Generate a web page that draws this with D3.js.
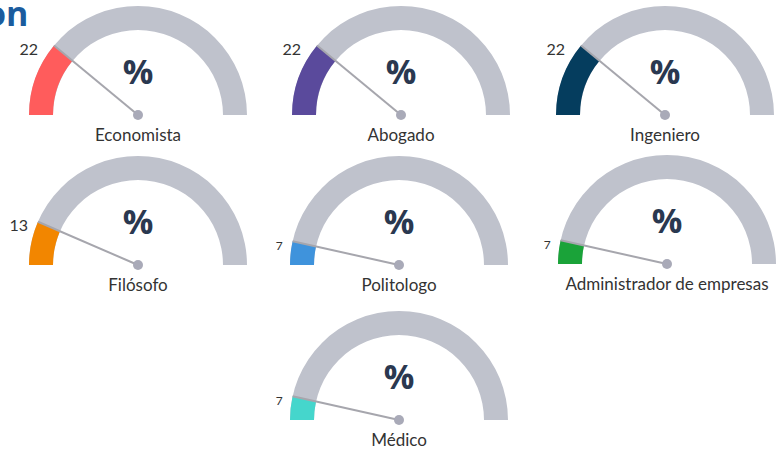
<!DOCTYPE html>
<html>
<head>
<meta charset="utf-8">
<script src="https://cdn.jsdelivr.net/npm/d3@7"></script>
<style>
  body { margin: 0; background: #fff; }
  svg { display: block; }
</style>
</head>
<body>
<svg id="chart"></svg>
<script>
const width = 784;
const height = 455;

// data
const categories = ["Economista", "Abogado", "Ingeniero", "Filósofo", "Politologo", "Administrador de empresas", "Médico"];
const values = [22, 22, 22, 13, 7, 7, 7];
const colors = ["#ff5c5c", "#5a4a9c", "#053d5e", "#f28600", "#3f93dc", "#1aa339", "#45d6cc"];

// gauge centres (layout only)
const centers = [
  [138, 115], [401, 115], [665, 115],
  [138, 265], [399, 265], [667, 264],
  [399, 420]
];

const outerR = 109;
const innerR = 85;

const svg = d3.select("#chart")
  .attr("width", width)
  .attr("height", height)
  .style("font-family", "Lato, 'Open Sans', sans-serif");

// clipped title fragment
svg.append("text")
  .attr("x", -15)
  .attr("y", 26)
  .attr("font-family", "'Open Sans', sans-serif")
  .attr("font-size", 34)
  .attr("font-weight", "bold")
  .attr("fill", "#1b5c9e")
  .text("on");

const angle = d3.scaleLinear().domain([0, 100]).range([-Math.PI / 2, Math.PI / 2]);
const arc = d3.arc().innerRadius(innerR).outerRadius(outerR);

const gauges = svg.selectAll("g.gauge")
  .data(categories.map((c, i) => ({ name: c, value: values[i], color: colors[i], pos: centers[i] })))
  .join("g")
  .attr("class", "gauge")
  .attr("transform", d => `translate(${d.pos[0]}, ${d.pos[1]})`);

// background band
gauges.append("path")
  .attr("d", arc({ startAngle: angle(0), endAngle: angle(100) }))
  .attr("fill", "#bfc2cc");

// value band
gauges.append("path")
  .attr("d", d => arc({ startAngle: angle(0), endAngle: angle(d.value) }))
  .attr("fill", d => d.color);

// needle
const tip = d => {
  const a = angle(d.value) - Math.PI / 2;
  return [outerR * Math.cos(a), outerR * Math.sin(a)];
};
gauges.append("line")
  .attr("x1", 0).attr("y1", 0)
  .attr("x2", d => tip(d)[0])
  .attr("y2", d => tip(d)[1])
  .attr("stroke", "#a6a6ad")
  .attr("stroke-width", 2);

gauges.append("circle")
  .attr("r", 5)
  .attr("fill", "#a9aab8");

// value label
gauges.append("text")
  .attr("x", d => tip(d)[0] - (d.value > 15 ? 16 : 10))
  .attr("y", d => tip(d)[1] + 9)
  .attr("text-anchor", "end")
  .attr("font-size", d => d.value < 10 ? 12 : 16)
  .attr("fill", "#333")
  .text(d => d.value);

// percent sign
gauges.append("text")
  .attr("x", 0)
  .attr("y", -31)
  .attr("text-anchor", "middle")
  .attr("font-family", "'Open Sans', sans-serif")
  .attr("font-size", 34)
  .attr("font-weight", "bold")
  .attr("fill", "#2a3850")
  .text("%");

// category label
gauges.append("text")
  .attr("x", 0)
  .attr("y", 26)
  .attr("text-anchor", "middle")
  .attr("font-size", 17)
  .attr("fill", "#333")
  .text(d => d.name);
</script>
</body>
</html>
